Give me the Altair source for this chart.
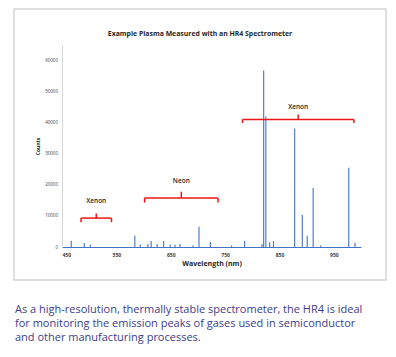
import altair as alt
import pandas as pd

# ---- data ----
peak_nm = [467, 491, 502, 584, 594, 608, 614, 625, 637, 649, 658, 667, 691, 702,
           723, 762, 786, 818, 821, 825, 832, 839, 878, 892, 901, 912, 926, 977.5, 989]
peak_counts = [2000, 1300, 800, 3600, 800, 1000, 1900, 1000, 1900, 800, 700, 1000, 500, 6500,
               1600, 500, 2000, 1000, 56800, 42000, 1500, 1900, 38100, 10300, 3600, 19000, 500, 25500, 1400]

bracket_label = ["Xenon", "Neon", "Xenon"]
bracket_start = [485, 602, 782]
bracket_end = [541, 737, 987]
bracket_level = [9300, 15800, 41000]
bracket_foot = [8000, 14300, 39900]
bracket_tip = [10800, 17800, 42600]
bracket_text_y = [14900, 21300, 45000]

x_ticks = [450, 550, 650, 750, 850, 950]
y_ticks = [0, 10000, 20000, 30000, 40000, 50000, 60000]

title_text = "Example Plasma Measured with an HR4 Spectrometer"
caption_lines = [
    "As a high-resolution, thermally stable spectrometer, the HR4 is ideal",
    "for monitoring the emission peaks of gases used in semiconductor",
    "and other manufacturing processes.",
]

# ---- tables ----
peaks = pd.DataFrame({"nm": peak_nm, "counts": peak_counts})
br = pd.DataFrame({
    "label": bracket_label,
    "start": bracket_start,
    "end": bracket_end,
    "level": bracket_level,
    "foot": bracket_foot,
    "tip": bracket_tip,
    "ty": bracket_text_y,
})
br["mid"] = (br["start"] + br["end"]) / 2
one = pd.DataFrame({"a": [0]})

BLUE = "#4472c4"
RED = "#f01414"
FONT = "Open Sans"

xscale = alt.Scale(domain=[450, 1000], nice=False, zero=False)
yscale = alt.Scale(domain=[0, 65000], nice=False)

xaxis = alt.Axis(values=x_ticks, title="Wavelength (nm)", grid=False, ticks=False,
                 labelFontSize=5, labelColor="#404040", labelFontWeight="bold",
                 labelPadding=5, labelFont=FONT, format="d", labelOverlap=False,
                 domainColor=BLUE, domainWidth=1.2,
                 titleFontSize=7, titleFontWeight="bold", titleColor="#262626",
                 titleFont=FONT, titlePadding=2)
yaxis = alt.Axis(values=y_ticks, title="Counts", grid=False, ticks=False,
                 labelFontSize=4.5, labelColor="#404040", labelPadding=4.5,
                 labelFont=FONT, format="d", labelOverlap=False,
                 domainColor="#d9d9d9",
                 titleFontSize=5, titleFontWeight="bold", titleColor="#262626",
                 titleFont=FONT, titlePadding=4)

frame = alt.Chart(one).mark_rect(fillOpacity=0, stroke="#d4d4d4", strokeWidth=1.5).encode(
    x=alt.value(-48), x2=alt.value(324), y=alt.value(-36), y2=alt.value(235)
)

spec = alt.Chart(peaks).mark_rule(color=BLUE, strokeWidth=1.1).encode(
    x=alt.X("nm:Q", scale=xscale, axis=xaxis),
    y=alt.Y("counts:Q", scale=yscale, axis=yaxis),
    y2=alt.datum(0),
)

br_h = alt.Chart(br).mark_rule(color=RED, strokeWidth=1.5).encode(
    x=alt.X("start:Q", scale=xscale, axis=xaxis), x2="end:Q",
    y=alt.Y("level:Q", scale=yscale, axis=yaxis)
)
br_l = alt.Chart(br).mark_rule(color=RED, strokeWidth=1.5).encode(
    x=alt.X("start:Q", scale=xscale, axis=xaxis),
    y=alt.Y("level:Q", scale=yscale, axis=yaxis), y2="foot:Q"
)
br_r = alt.Chart(br).mark_rule(color=RED, strokeWidth=1.5).encode(
    x=alt.X("end:Q", scale=xscale, axis=xaxis),
    y=alt.Y("level:Q", scale=yscale, axis=yaxis), y2="foot:Q"
)
br_c = alt.Chart(br).mark_rule(color=RED, strokeWidth=1.5).encode(
    x=alt.X("mid:Q", scale=xscale, axis=xaxis),
    y=alt.Y("level:Q", scale=yscale, axis=yaxis), y2="tip:Q"
)
br_t = alt.Chart(br).mark_text(fontSize=6.5, fontWeight=600, color="#262626", font=FONT).encode(
    x=alt.X("mid:Q", scale=xscale, axis=xaxis),
    y=alt.Y("ty:Q", scale=yscale, axis=yaxis), text="label:N"
)

title = alt.Chart(one).mark_text(fontSize=6.9, fontWeight="bold", color="#262626",
                                 font=FONT, align="center", baseline="middle").encode(
    x=alt.value(138), y=alt.value(-11), text=alt.value(title_text)
)

caption = alt.Chart(one).mark_text(fontSize=11, color="#3b3d8c", font=FONT,
                                   align="left", baseline="alphabetic",
                                   lineBreak="\n", lineHeight=14).encode(
    x=alt.value(-47), y=alt.value(268), text=alt.value("\n".join(caption_lines))
)

chart = alt.layer(frame, spec, br_h, br_l, br_r, br_c, br_t, title, caption).properties(
    width=299, height=202,
    autosize=alt.AutoSizeParams(type="none"),
    padding={"left": 62, "top": 45, "right": 35, "bottom": 110},
    background="white",
).configure_view(stroke=None).configure_axis(labelOverlap=False)

chart.save("out.html", embed_options={"renderer": "svg", "actions": False})
